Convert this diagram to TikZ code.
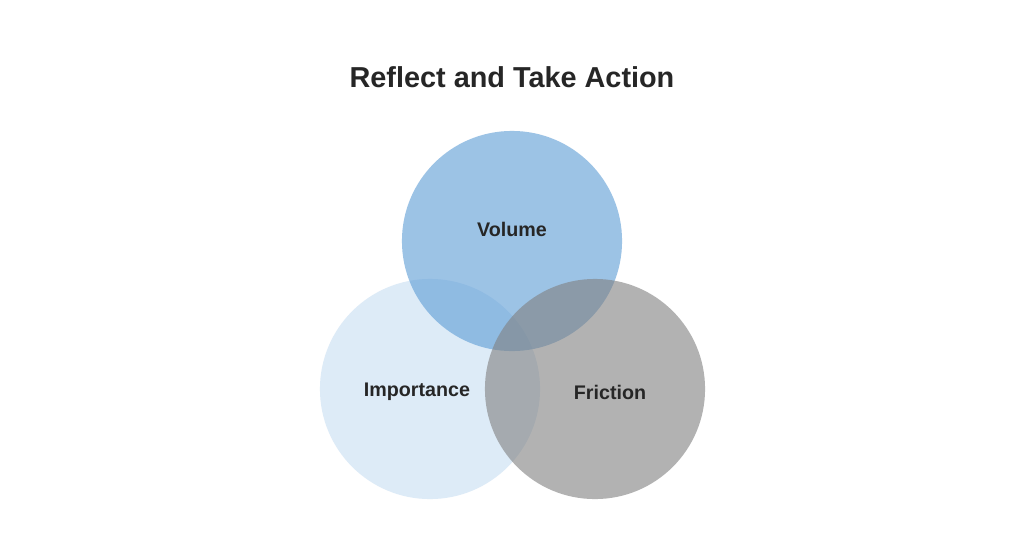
\documentclass[tikz,border=0pt]{standalone}
\usepackage{fontspec}
\setmainfont{Liberation Sans}
\begin{document}
\begin{tikzpicture}[x=0.01cm,y=-0.01cm,
  venn/.style={circle,minimum size=2.2cm,inner sep=0pt},
  lbl/.style={font=\fontsize{5.6}{6}\selectfont\bfseries,text=black!85}]
\useasboundingbox[fill=white] (0,0) rectangle (1024,536);
% circles
\node[venn,fill={rgb,255:red,221;green,235;blue,247}] (imp) at (430,389) {};
\node[venn,fill={rgb,255:red,91;green,155;blue,213},fill opacity=0.6] (vol) at (512,241) {};
\node[venn,fill={rgb,255:red,128;green,128;blue,128},fill opacity=0.6] (fri) at (595,389) {};
% labels
\node[lbl] (tvol) at (512,229) {Volume};
\node[lbl] (timp) at (417,392) {Importance};
\node[lbl] (tfri) at (610,392) {Friction};
\node[font=\fontsize{8.2}{9}\selectfont\bfseries,text=black!85] (title) at (512,77) {Reflect and Take Action};
\end{tikzpicture}
\end{document}
